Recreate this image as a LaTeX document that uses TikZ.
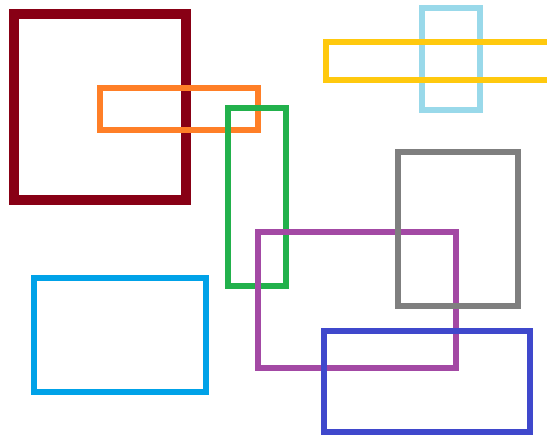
\documentclass[tikz,border=0pt]{standalone}
\definecolor{cRed}{HTML}{880015}
\definecolor{cOrange}{HTML}{FF7F27}
\definecolor{cGreen}{HTML}{22B14C}
\definecolor{cPurple}{HTML}{A349A4}
\definecolor{cGray}{HTML}{7F7F7F}
\definecolor{cBlue}{HTML}{3F48CC}
\definecolor{cLight}{HTML}{99D9EA}
\definecolor{cYellow}{HTML}{FFC90E}
\definecolor{cCyan}{HTML}{00A2E8}
\tikzset{frame/.style={line width=6pt, line join=miter}}
\begin{document}
\begin{tikzpicture}[x=1pt,y=-1pt]
\useasboundingbox (0,0) rectangle (547,436);
\clip (0,0) rectangle (547,436);
\fill[white] (0,0) rectangle (547,436);
\draw[frame, line width=10pt, cRed] (14,14) rectangle (186,200);
\draw[frame, cOrange] (100,88) rectangle (258,130);
\draw[frame, cGreen] (228,108) rectangle (286,286);
\draw[frame, cPurple] (258,232) rectangle (456,368);
\draw[frame, cGray] (398,152.5) rectangle (518,306);
\draw[frame, cBlue] (324,330.5) rectangle (530,432);
\draw[frame, cLight] (422,8) rectangle (480,110);
\draw[frame, cYellow] (326,42) rectangle (570,80);
\draw[frame, cCyan] (34,278) rectangle (206,392);
\end{tikzpicture}
\end{document}
